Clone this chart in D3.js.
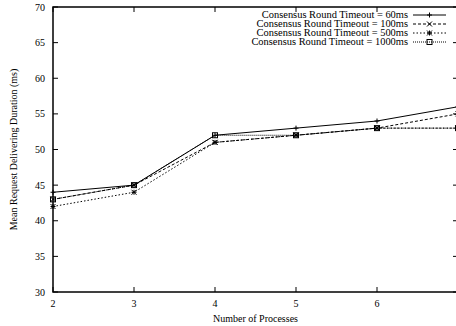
<!DOCTYPE html>
<html>
<head>
<meta charset="utf-8">
<script src="https://cdn.jsdelivr.net/npm/d3@7"></script>
<style>
  body { margin: 0; background: #fff; }
  svg { display: block; }
  text { font-family: "Liberation Serif", "DejaVu Serif", serif; fill: #000; }
</style>
</head>
<body>
<div id="chart"></div>
<script>
const processes = [2, 3, 4, 5, 6, 7];
const timeout60 = [44, 45, 52, 53, 54, 56];
const timeout100 = [43, 45, 51, 52, 53, 55];
const timeout500 = [42, 44, 51, 52, 53, 53];
const timeout1000 = [43, 45, 52, 52, 53, 53];
const seriesNames = [
    "Consensus Round Timeout = 60ms",
    "Consensus Round Timeout = 100ms",
    "Consensus Round Timeout = 500ms",
    "Consensus Round Timeout = 1000ms"
];
const xTicks = [2, 3, 4, 5, 6, 7];
// the "7" label falls outside the picture in the original
const xTickLabels = [2, 3, 4, 5, 6];
const yTicks = [30, 35, 40, 45, 50, 55, 60, 65, 70];

const width = 456;
const height = 326;
const margin = { left: 53, top: 7, right: -2, bottom: 34 };

const svg = d3.select("#chart")
    .append("svg")
    .attr("width", width)
    .attr("height", height);

const x = d3.scaleLinear()
    .domain([2, 7])
    .range([margin.left, width - margin.right]);

const y = d3.scaleLinear()
    .domain([30, 70])
    .range([height - margin.bottom, margin.top]);

const series = [
    { name: seriesNames[0], values: timeout60, dash: null, marker: "plus" },
    { name: seriesNames[1], values: timeout100, dash: "3,2", marker: "cross" },
    { name: seriesNames[2], values: timeout500, dash: "1.5,2", marker: "star" },
    { name: seriesNames[3], values: timeout1000, dash: "1,1", marker: "box" }
];

// ticks: inside on all four sides
const tickLen = 5;
const ticksG = svg.append("g").attr("stroke", "#000").attr("stroke-width", 1);
yTicks.forEach(t => {
    ticksG.append("line").attr("x1", x(2)).attr("x2", x(2) + tickLen)
        .attr("y1", y(t)).attr("y2", y(t));
    ticksG.append("line").attr("x1", x(7)).attr("x2", x(7) - tickLen)
        .attr("y1", y(t)).attr("y2", y(t));
});
xTicks.forEach(t => {
    ticksG.append("line").attr("x1", x(t)).attr("x2", x(t))
        .attr("y1", y(30)).attr("y2", y(30) - tickLen);
    ticksG.append("line").attr("x1", x(t)).attr("x2", x(t))
        .attr("y1", y(70)).attr("y2", y(70) + tickLen);
});

// tick labels
svg.append("g").selectAll("text")
    .data(yTicks)
    .join("text")
    .attr("x", x(2) - 8)
    .attr("y", d => y(d) + 3.5)
    .attr("text-anchor", "end")
    .attr("font-size", 10)
    .text(d => d);

svg.append("g").selectAll("text")
    .data(xTickLabels)
    .join("text")
    .attr("x", d => x(d))
    .attr("y", y(30) + 15)
    .attr("text-anchor", "middle")
    .attr("font-size", 10)
    .text(d => d);

// border
svg.append("rect")
    .attr("x", x(2))
    .attr("y", y(70))
    .attr("width", x(7) - x(2))
    .attr("height", y(30) - y(70))
    .attr("fill", "none")
    .attr("stroke", "#000")
    .attr("stroke-width", 1.5);

// axis titles
svg.append("text")
    .attr("x", (x(2) + x(7)) / 2)
    .attr("y", 322)
    .attr("text-anchor", "middle")
    .attr("font-size", 10)
    .text("Number of Processes");

svg.append("text")
    .attr("transform", `translate(17, ${(y(30) + y(70)) / 2}) rotate(-90)`)
    .attr("text-anchor", "middle")
    .attr("font-size", 10)
    .text("Mean Request Delivering Duration (ms)");

const drawMarker = (g, type, cx, cy) => {
    const s = 2.5;
    if (type === "plus" || type === "star") {
        g.append("line").attr("x1", cx - s).attr("x2", cx + s).attr("y1", cy).attr("y2", cy);
        g.append("line").attr("x1", cx).attr("x2", cx).attr("y1", cy - s).attr("y2", cy + s);
    }
    if (type === "cross" || type === "star") {
        g.append("line").attr("x1", cx - s).attr("x2", cx + s).attr("y1", cy - s).attr("y2", cy + s);
        g.append("line").attr("x1", cx - s).attr("x2", cx + s).attr("y1", cy + s).attr("y2", cy - s);
    }
    if (type === "box") {
        g.append("rect").attr("x", cx - s).attr("y", cy - s)
            .attr("width", 2 * s).attr("height", 2 * s).attr("fill", "none");
    }
};

const line = d3.line()
    .x((d, i) => x(processes[i]))
    .y(d => y(d));

const plotG = svg.append("g");

series.forEach(s => {
    plotG.append("path")
        .datum(s.values)
        .attr("d", line)
        .attr("fill", "none")
        .attr("stroke", "#000")
        .attr("stroke-width", 1)
        .attr("stroke-dasharray", s.dash);
    const mg = plotG.append("g").attr("stroke", "#000").attr("stroke-width", 1);
    s.values.forEach((v, i) => drawMarker(mg, s.marker, x(processes[i]), y(v)));
});

// legend
const legendG = svg.append("g");
series.forEach((s, i) => {
    const ly = 15 + i * 9;
    legendG.append("text")
        .attr("transform", `translate(408, ${ly + 3.2}) scale(1.1, 1)`)
        .attr("text-anchor", "end")
        .attr("font-size", 9.5)
        .text(s.name);
    legendG.append("line")
        .attr("x1", 413).attr("x2", 446)
        .attr("y1", ly).attr("y2", ly)
        .attr("stroke", "#000")
        .attr("stroke-width", 1)
        .attr("stroke-dasharray", s.dash);
    const mg = legendG.append("g").attr("stroke", "#000").attr("stroke-width", 1);
    drawMarker(mg, s.marker, 429.5, ly);
});
</script>
</body>
</html>
